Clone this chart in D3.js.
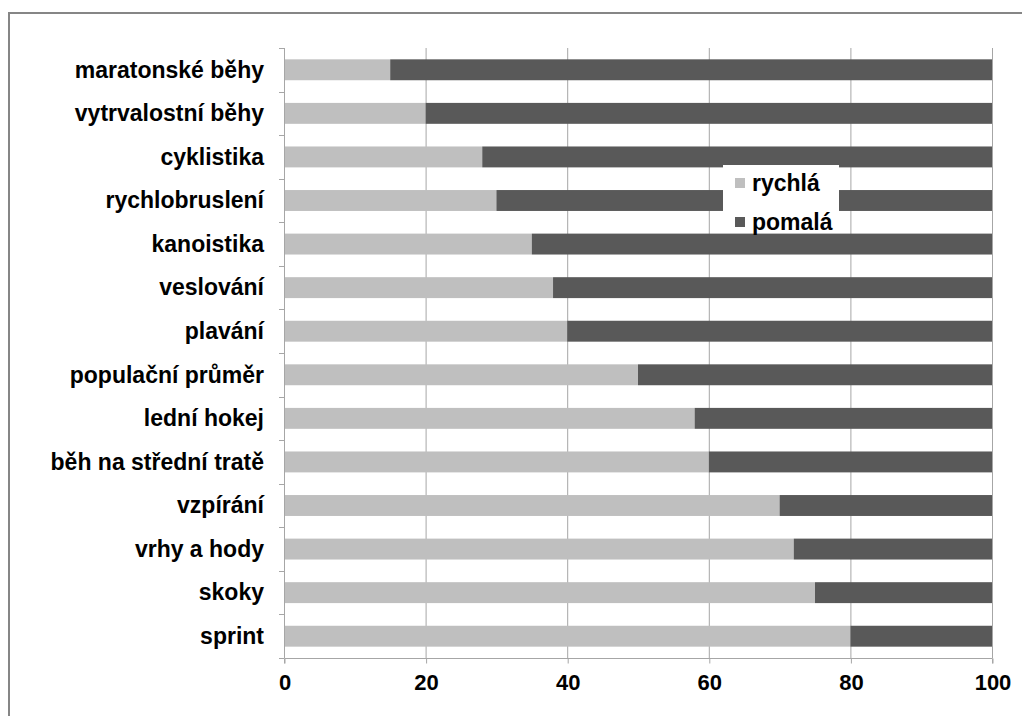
<!DOCTYPE html>
<html>
<head>
<meta charset="utf-8">
<script src="https://cdn.jsdelivr.net/npm/d3@7"></script>
<style>
  body { margin: 0; background: #fff; }
  text { font-family: Arial, "Liberation Sans", sans-serif; font-weight: bold; fill: #000; }
</style>
</head>
<body>
<div id="chart"></div>
<script>
// data (share in %)
const categories = ["maratonské běhy", "vytrvalostní běhy", "cyklistika", "rychlobruslení",
  "kanoistika", "veslování", "plavání", "populační průměr", "lední hokej",
  "běh na střední tratě", "vzpírání", "vrhy a hody", "skoky", "sprint"];
const rychla = [15, 20, 28, 30, 35, 38, 40, 50, 58, 60, 70, 72, 75, 80];
const pomala = [85, 80, 72, 70, 65, 62, 60, 50, 42, 40, 30, 28, 25, 20];
const seriesNames = ["rychlá", "pomalá"];
const xTicks = [0, 20, 40, 60, 80, 100];

const width = 1022, height = 716;
const colors = ["#bfbfbf", "#595959"];
const gridColor = "#a6a6a6";

const svg = d3.select("#chart").append("svg")
  .attr("width", width)
  .attr("height", height);

// outer frame (runs off the right/bottom edge like the original)
svg.append("rect")
  .attr("x", 9).attr("y", 13)
  .attr("width", 1030).attr("height", 720)
  .attr("fill", "none")
  .attr("stroke", "#868686")
  .attr("stroke-width", 2);

const x = d3.scaleLinear().domain([0, 100]).range([284, 992]);
const y = d3.scaleBand().domain(categories).range([48, 658]).paddingInner(0.52).paddingOuter(0.26);
const band = d3.scaleBand().domain(categories).range([48, 658]);

// vertical gridlines
svg.append("g")
  .selectAll("line")
  .data(xTicks.slice(1))
  .join("line")
  .attr("x1", d => x(d) + 0.5).attr("x2", d => x(d) + 0.5)
  .attr("y1", 48).attr("y2", 658)
  .attr("stroke", gridColor);

// stacked bars
const rows = categories.map((c, i) => ({ cat: c, rychla: rychla[i], pomala: pomala[i] }));
const stack = d3.stack().keys(["rychla", "pomala"])(rows);

svg.append("g")
  .selectAll("g")
  .data(stack)
  .join("g")
  .attr("fill", (d, i) => colors[i])
  .selectAll("rect")
  .data(d => d)
  .join("rect")
  .attr("x", d => x(d[0]))
  .attr("width", d => x(d[1]) - x(d[0]))
  .attr("y", d => y(d.data.cat))
  .attr("height", y.bandwidth());

// x axis
const xAxis = svg.append("g")
  .attr("transform", "translate(0.5,658.5)")
  .call(d3.axisBottom(x).tickValues(xTicks).tickSize(5).tickPadding(11));
xAxis.select(".domain").attr("stroke", gridColor).attr("d", "M284,5V0H992V5");
xAxis.selectAll(".tick line").attr("stroke", gridColor);
xAxis.selectAll(".tick text")
  .attr("font-size", 22)
  .attr("font-family", "Arial, 'Liberation Sans', sans-serif")
  .attr("font-weight", "bold")
  .attr("fill", "#000");

// y axis: line plus ticks at band boundaries
svg.append("line")
  .attr("x1", 284.5).attr("x2", 284.5)
  .attr("y1", 48).attr("y2", 658)
  .attr("stroke", gridColor);

const bounds = categories.map(c => band(c)).concat([658]);
svg.append("g")
  .selectAll("line")
  .data(bounds)
  .join("line")
  .attr("x1", 279).attr("x2", 284)
  .attr("y1", d => Math.round(d) + 0.5).attr("y2", d => Math.round(d) + 0.5)
  .attr("stroke", gridColor);

svg.append("g")
  .attr("text-anchor", "end")
  .attr("font-size", 23)
  .selectAll("text")
  .data(categories)
  .join("text")
  .attr("x", 264)
  .attr("y", d => band(d) + band.bandwidth() / 2)
  .attr("dy", "0.34em")
  .text(d => d);

// legend
const legend = svg.append("g").attr("transform", "translate(723,165)");
legend.append("rect")
  .attr("width", 116).attr("height", 68)
  .attr("fill", "#fff");

const item = legend.selectAll(".item")
  .data(seriesNames)
  .join("g")
  .attr("class", "item")
  .attr("transform", (d, i) => `translate(0,${18 + i * 39})`);

item.append("rect")
  .attr("x", 12).attr("y", -5)
  .attr("width", 10).attr("height", 10)
  .attr("fill", (d, i) => colors[i]);

item.append("text")
  .attr("x", 29)
  .attr("dy", "0.34em")
  .attr("font-size", 23)
  .text(d => d);
</script>
</body>
</html>
